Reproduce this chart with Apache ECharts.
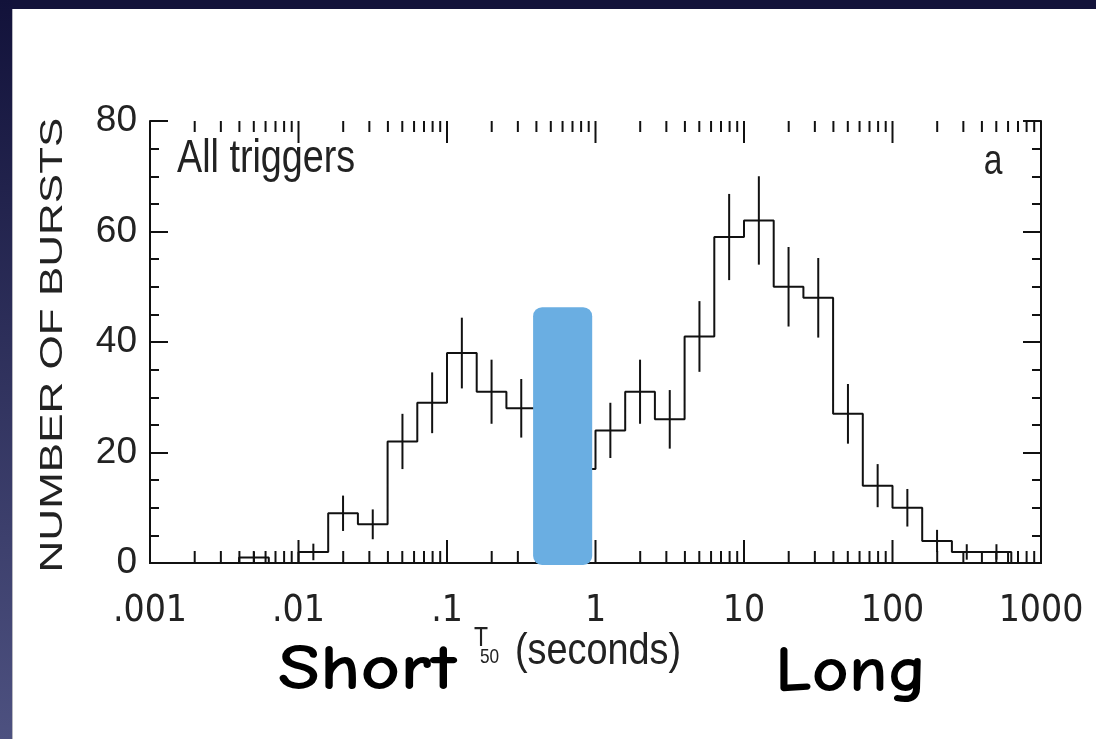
<!DOCTYPE html>
<html>
<head>
<meta charset="utf-8">
<script src="https://cdn.jsdelivr.net/npm/echarts@6/dist/echarts.min.js"></script>
<style>
html,body{margin:0;padding:0;background:#fff;}
#chart{width:1096px;height:739px;}
</style>
</head>
<body>
<div id="chart"></div>
<script>
// ---- data ----
// bin edges as log10(T50 / s)
const binEdgesLog = [-2.4,-2.2,-2.0,-1.8,-1.6,-1.4,-1.2,-1.0,-0.8,-0.6,-0.4,-0.2,0.0,0.2,0.4,0.6,0.8,1.0,1.2,1.4,1.6,1.8,2.0,2.2,2.4,2.6,2.8];
const burstCounts = [1,0,2,9,7,22,29,38,31,28,21,17,24,31,26,41,59,62,50,48,27,14,10,4,2,2];
const countErrors = [1,0,1.5,3.2,2.7,5,5.5,6.4,5.8,5.3,4.6,4.1,5,5.8,5.3,6.4,7.8,8,7.2,7.2,5.4,3.9,3.4,2,1.4,1.4];
const xTickLabels = ['.001','.01','.1','1','10','100','1000'];
const yTickLabels = ['0','20','40','60','80'];
const highlightBand = [0.38, 0.95, 0, 46.3]; // x from, x to, y from, y to
const minorMultipliers = [2,3,4,5,6,7,8,9];
const decades = [0.001,0.01,0.1,1,10,100,1000];

// ---- build series data ----
const edges = binEdgesLog.map(e => Math.pow(10, e));
const stepData = [[edges[0], 0]];
for (let i = 0; i < burstCounts.length; i++) stepData.push([edges[i], burstCounts[i]]);
stepData.push([edges[edges.length - 1], 0]);

const errData = [];
for (let i = 0; i < burstCounts.length; i++) {
  if (countErrors[i] > 0) {
    const c = Math.pow(10, (binEdgesLog[i] + binEdgesLog[i + 1]) / 2);
    errData.push([c, burstCounts[i], countErrors[i]]);
  }
}
// x ticks: [value, isMajor]
const xTicks = [];
decades.forEach((d, k) => {
  xTicks.push([d, 0, 1]);
  if (k < decades.length - 1) minorMultipliers.forEach(m => xTicks.push([d * m, 0, 0]));
});

const thinFont = "'Liberation Sans Narrow','DejaVu Sans Condensed','Liberation Sans',sans-serif";
const plainFont = "'Liberation Sans','DejaVu Sans',sans-serif";
const comicFont = "'Comic Sans MS','Comic Neue','Lato','Open Sans',sans-serif";
const ink = '#111';

const chart = echarts.init(document.getElementById('chart'), null, {renderer: 'canvas'});

function logAxis(pos, showLabel) {
  return {
    type: 'log', logBase: 10, min: 0.001, max: 1000, position: pos,
    axisLine: {show: true, lineStyle: {color: ink, width: 2}},
    axisTick: {show: false},
    axisLabel: {
      show: showLabel, margin: 30, fontSize: 37, fontFamily: thinFont, color: '#222',
      formatter: v => xTickLabels[Math.round(Math.log10(v)) + 3]
    },
    splitLine: {show: false}, minorTick: {show: false}, minorSplitLine: {show: false}
  };
}
function linAxis(pos, showLabel) {
  return {
    type: 'value', min: 0, max: 80, interval: 20, position: pos,
    axisLine: {show: true, lineStyle: {color: ink, width: 2}},
    axisTick: {show: true, inside: true, length: 18, lineStyle: {color: ink, width: 2}},
    minorTick: {show: true, splitNumber: 4, length: 9, lineStyle: {color: ink, width: 2}},
    axisLabel: {
      show: showLabel, margin: 13, fontSize: 37, fontFamily: plainFont, color: '#222',
      formatter: v => yTickLabels[Math.round(v / 20)]
    },
    splitLine: {show: false}
  };
}

const option = {
  animation: false,
  backgroundColor: '#ffffff',
  grid: {left: 150, right: 55, top: 121, bottom: 176, containLabel: false},
  xAxis: [logAxis('bottom', true), logAxis('top', false)],
  yAxis: [linAxis('left', true), linAxis('right', false)],
  series: [
    {
      type: 'line', step: 'end', data: stepData, xAxisIndex: 0, yAxisIndex: 0,
      showSymbol: false, symbol: 'none', lineStyle: {color: ink, width: 2}, z: 3
    },
    {
      type: 'custom', data: errData, xAxisIndex: 0, yAxisIndex: 0, z: 3,
      renderItem: (params, api) => {
        const x = api.value(0), v = api.value(1), e = api.value(2);
        const p1 = api.coord([x, v - e]), p2 = api.coord([x, v + e]);
        return {type: 'line', shape: {x1: p1[0], y1: p1[1], x2: p2[0], y2: p2[1]},
                style: {stroke: ink, lineWidth: 2}};
      }
    },
    {
      type: 'custom', data: xTicks, xAxisIndex: 0, yAxisIndex: 0, z: 4, clip: false,
      renderItem: (params, api) => {
        const major = api.value(2) === 1;
        const b = api.coord([api.value(0), 0]);
        const t = api.coord([api.value(0), 80]);
        const lb = major ? 23 : 12, lt = major ? 22 : 11;
        return {type: 'group', children: [
          {type: 'line', shape: {x1: b[0], y1: b[1], x2: b[0], y2: b[1] - lb}, style: {stroke: ink, lineWidth: 2}},
          {type: 'line', shape: {x1: t[0], y1: t[1], x2: t[0], y2: t[1] + lt}, style: {stroke: ink, lineWidth: 2}}
        ]};
      }
    },
    {
      type: 'custom', data: [highlightBand], xAxisIndex: 0, yAxisIndex: 0, z: 10, clip: false,
      renderItem: (params, api) => {
        const a = api.coord([api.value(0), api.value(3)]);
        const b = api.coord([api.value(1), api.value(2)]);
        return {type: 'rect', shape: {x: a[0], y: a[1], width: b[0] - a[0], height: b[1] - a[1] + 2, r: 9},
                style: {fill: '#6aaee2'}};
      }
    }
  ],
  graphic: [
    {type: 'rect', left: 0, top: 0, shape: {width: 1096, height: 9}, style: {fill: '#13133a'}, z: 100},
    {type: 'rect', left: 0, top: 0, shape: {width: 12, height: 739},
     style: {fill: new echarts.graphic.LinearGradient(0, 0, 0, 1, [{offset: 0, color: '#12123a'}, {offset: 1, color: '#4d5180'}])}, z: 100},
    {type: 'rect', left: 12, top: 9, shape: {width: 1, height: 730}, style: {fill: '#b8b8c0'}, z: 100},
    {type: 'text', x: 177, y: 159, scaleX: 0.82, z: 100,
     style: {text: 'All triggers', fontSize: 46, fontFamily: plainFont, fill: '#222', align: 'left', verticalAlign: 'middle'}},
    {type: 'text', x: 993, y: 162, scaleX: 0.8, z: 100,
     style: {text: 'a', fontSize: 42, fontFamily: plainFont, fill: '#222', align: 'center', verticalAlign: 'middle'}},
    {type: 'text', x: 53, y: 345, rotation: Math.PI / 2, scaleX: 1.42, z: 100,
     style: {text: 'NUMBER OF BURSTS', fontSize: 31, fontFamily: plainFont, fill: '#222', align: 'center', verticalAlign: 'middle'}},
    {type: 'text', x: 474, y: 638, scaleX: 0.82, z: 100,
     style: {text: 'T', fontSize: 28, fontFamily: plainFont, fill: '#222', align: 'left', verticalAlign: 'middle'}},
    {type: 'text', x: 480, y: 657, scaleX: 0.82, z: 100,
     style: {text: '50', fontSize: 21, fontFamily: plainFont, fill: '#222', align: 'left', verticalAlign: 'middle'}},
    {type: 'text', x: 515, y: 652, scaleX: 0.86, z: 100,
     style: {text: '(seconds)', fontSize: 44, fontFamily: plainFont, fill: '#222', align: 'left', verticalAlign: 'middle'}},
    {type: 'text', x: 278, y: 671, scaleX: 1.2, z: 100,
     style: {text: 'Short', fontSize: 64, fontWeight: 'bold', fontFamily: comicFont, fill: '#000', align: 'left', verticalAlign: 'middle'}},
    {type: 'text', x: 775, y: 673, scaleX: 1.12, z: 100,
     style: {text: 'Long', fontSize: 64, fontWeight: 'bold', fontFamily: comicFont, fill: '#000', align: 'left', verticalAlign: 'middle'}}
  ]
};
chart.setOption(option);
</script>
</body>
</html>
